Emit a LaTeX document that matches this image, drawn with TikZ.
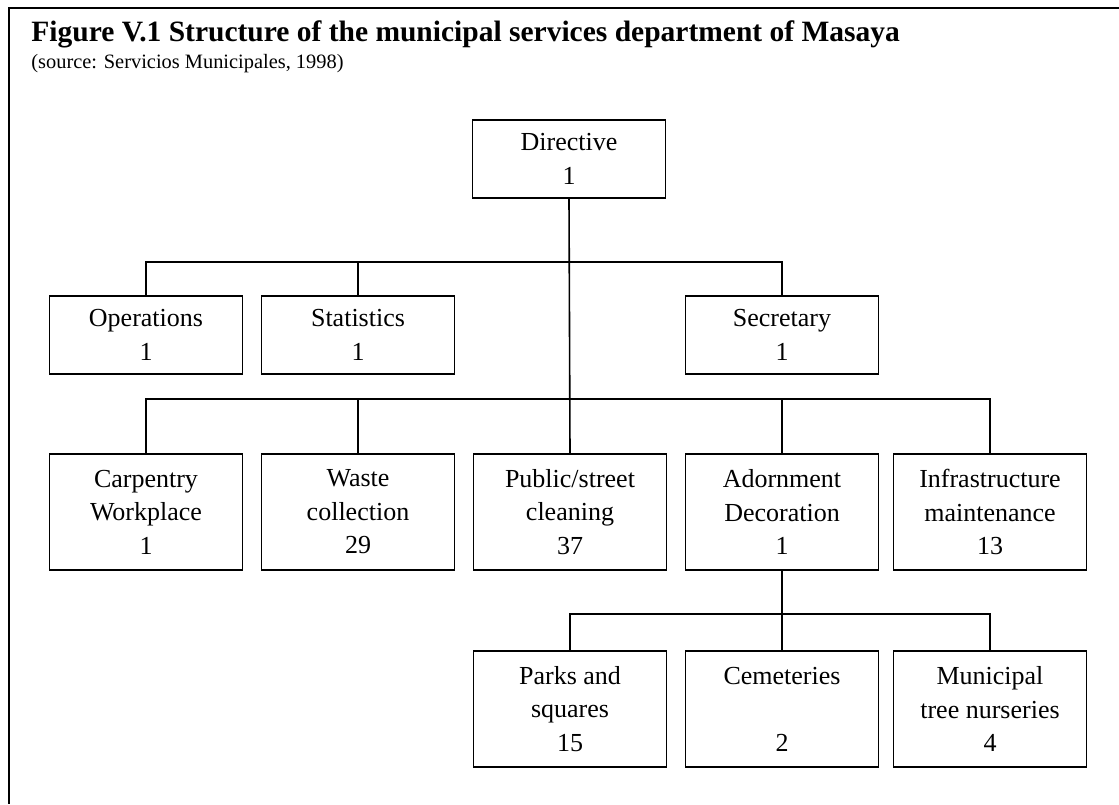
\documentclass[tikz,border=0pt]{standalone}
\usepackage{fontspec}
\setmainfont{Liberation Serif}
\usepackage{tikz}
\usetikzlibrary{
  positioning,
  calc
}

\begin{document}
\begin{tikzpicture}[x=0.5pt,y=-0.5pt,
    unit/.style={draw, line width=0.9pt, minimum width=96.5pt, inner sep=0pt,
      align=center, font=\fontsize{13}{16.75}\selectfont},
    lowunit/.style={unit, minimum height=39pt},
    highunit/.style={unit, minimum height=58pt},
    link/.style={line width=0.8pt}]
      \useasboundingbox (0,0) rectangle (1119,804);

      % Frame
      \draw[line width=1pt] (1119,8) -- (9,8) -- (9,804);

      % Title
      \node[anchor=base west, inner sep=0pt, font=\fontsize{14.75}{17}\selectfont\bfseries] (title) at (31,41)
        {Figure V.1 Structure of the municipal services department of Masaya};
      \node[anchor=base west, inner sep=0pt, font=\fontsize{10.2}{12}\selectfont] (source) at (31,68)
        {(source: Servicios Municipales, 1998)};

      % Top
      \node[lowunit] (dir) at (569,159) {Directive\\1};

      % First level
      \node[lowunit] (ops) at (146,335) {Operations\\1};
      \node[lowunit] (stat) at (358,335) {Statistics\\1};
      \node[lowunit] (sec) at (782,335) {Secretary\\1};

      % Second level
      \node[highunit] (carp) at (146,512) {Carpentry\\Workplace\\1};
      \node[highunit] (waste) at (358,512) {Waste\\collection\\29};
      \node[highunit] (clean) at (570,512) {Public/street\\cleaning\\37};
      \node[highunit] (adorn) at (782,512) {Adornment\\Decoration\\1};
      \node[highunit] (infra) at (990,512) {Infrastructure\\maintenance\\13};

      % Third level
      \node[highunit] (parks) at (570,709) {Parks and\\squares\\15};
      \node[highunit] (cem) at (782,709) {Cemeteries\\~\\2};
      \node[highunit] (nurs) at (990,709) {Municipal\\tree nurseries\\4};

      % Connectors
      \coordinate (bar1) at (569,262);
      \coordinate (bar2) at (569,399);
      \coordinate (bar3) at (782,614);

      \draw[link] (dir.south) -- (clean.north);
      \draw[link] (ops.north) |- (bar1) -| (sec.north);
      \draw[link] (stat.north) -- (stat.north |- bar1);

      \draw[link] (carp.north) |- (bar2) -| (infra.north);
      \draw[link] (waste.north) -- (waste.north |- bar2);
      \draw[link] (adorn.north) -- (adorn.north |- bar2);

      \draw[link] (adorn.south) -- (cem.north);
      \draw[link] (parks.north) |- (bar3) -| (nurs.north);
    \end{tikzpicture}
\end{document}
